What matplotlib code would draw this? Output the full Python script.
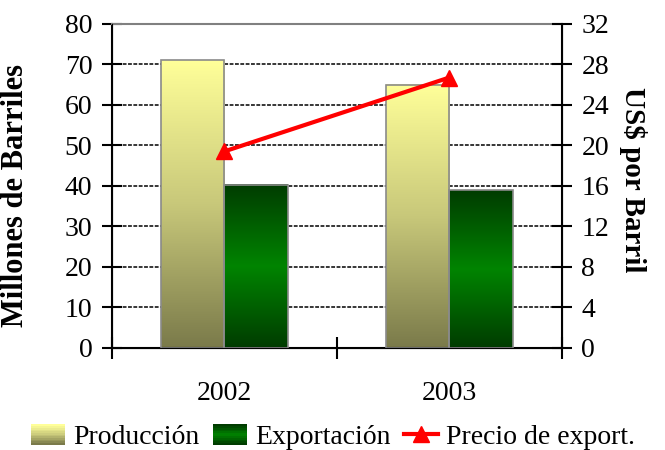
import numpy as np
import matplotlib.pyplot as plt
from matplotlib.patches import Rectangle
from matplotlib.legend_handler import HandlerBase
from matplotlib.colors import LinearSegmentedColormap
from matplotlib.lines import Line2D

plt.rcParams['font.family'] = ['Liberation Serif', 'DejaVu Serif']

years = ['2002', '2003']
produccion = [71, 65]
exportacion = [40.3, 39]
precio = [19.4, 26.7]

cm_prod = LinearSegmentedColormap.from_list('prod', ['#7a7a4a', '#c8c87a', '#ffff99'])
cm_exp = LinearSegmentedColormap.from_list('exp', ['#003c00', '#008400', '#003c00'])


class HandlerGradient(HandlerBase):
    def __init__(self, cmap):
        super().__init__()
        self.cmap = cmap

    def create_artists(self, legend, orig_handle, xdescent, ydescent,
                       width, height, fontsize, trans):
        n = 12
        arts = []
        for i in range(n):
            r = Rectangle((-xdescent, -ydescent + height * i / n), width, height / n + 0.3,
                          facecolor=self.cmap(i / (n - 1)), edgecolor='none', transform=trans)
            arts.append(r)
        return arts


fig = plt.figure(figsize=(6.65, 4.5), dpi=100)
ax = fig.add_axes([0.168, 0.227, 0.677, 0.72])
ax2 = ax.twinx()

x = np.arange(len(years)) + 0.5
w = 0.283
grad = np.linspace(0, 1, 256).reshape(-1, 1)

for xi, p, e in zip(x, produccion, exportacion):
    for x0, h, cmap in [(xi - w, p, cm_prod), (xi, e, cm_exp)]:
        ax.imshow(grad, extent=[x0, x0 + w, 0, h], origin='lower', cmap=cmap,
                  aspect='auto', zorder=2)
        ax.add_patch(Rectangle((x0, 0), w, h, facecolor='none', edgecolor='#8a8a8a',
                               lw=1.2, zorder=3))

ax.set_xlim(0, 2)
ax.set_ylim(0, 80)
ax.set_yticks(range(0, 81, 10))
ax.yaxis.grid(True, linestyle=(0, (2.5, 1)), color='black', lw=1.1, zorder=0)
ax.set_axisbelow(True)

ax.set_xticks(x)
ax.set_xticklabels(years)
ax.set_xticks([0, 1, 2], minor=True)
ax.tick_params(axis='x', which='major', length=0, pad=24, labelsize=20)
ax.tick_params(axis='x', which='minor', direction='inout', length=16, width=1.5)
ax.tick_params(axis='y', direction='inout', length=14, width=1.5, labelsize=20, pad=7)

ax.spines['top'].set_color('#808080')
ax.spines['top'].set_linewidth(1.5)
for s in ['left', 'bottom']:
    ax.spines[s].set_linewidth(1.5)
ax2.spines['right'].set_linewidth(1.5)
ax2.spines['top'].set_visible(False)

ax.set_ylabel('Millones de Barriles', fontsize=22, fontweight='bold')
ax.yaxis.set_label_coords(-0.182, 0.47)

ax2.plot(x, precio, color='#ff0000', lw=3, marker='^', markersize=11, zorder=5)
ax2.set_ylim(0, 32)
ax2.set_yticks(range(0, 33, 4))
ax2.tick_params(axis='y', direction='inout', length=14, width=1.5, labelsize=20, pad=7)
ax2.set_ylabel('US$ por Barril', fontsize=21, fontweight='bold', rotation=-90)
ax2.yaxis.set_label_coords(1.19, 0.52)

h_prod = Rectangle((0, 0), 1, 1)
h_exp = Rectangle((0, 0), 1, 1)
h_line = Line2D([], [], color='#ff0000', lw=3, marker='^', markersize=11)
fig.legend([h_prod, h_exp, h_line], ['Producción', 'Exportación', 'Precio de export.'],
           handler_map={h_prod: HandlerGradient(cm_prod), h_exp: HandlerGradient(cm_exp)},
           loc='center', bbox_to_anchor=(0.501, 0.028), ncol=3, frameon=False,
           fontsize=20, handlelength=1.2, handletextpad=0.3, columnspacing=0.5,
           handleheight=0.75, borderaxespad=0)

fig.savefig('out.png', dpi=100)
